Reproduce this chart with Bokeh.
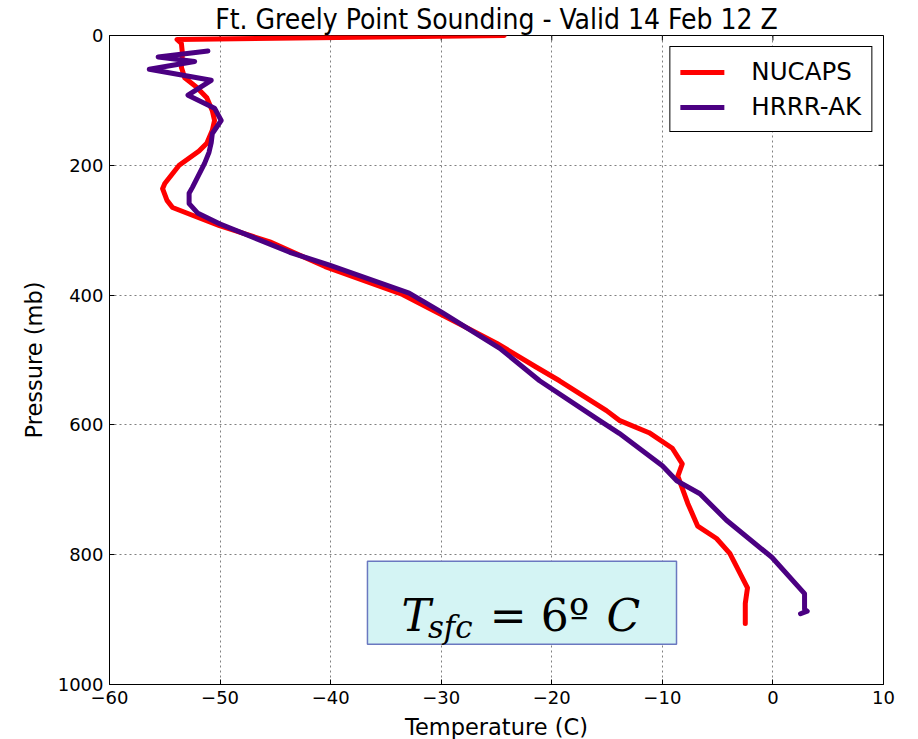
from bokeh.plotting import figure
from bokeh.models import (Range1d, FixedTicker, Legend, LegendItem,
                          BoxAnnotation, Label)
from bokeh.embed import file_html
from bokeh.resources import INLINE

# ---- data (temperature in C, pressure in mb) ----
nucaps_temp = [-24.3, -53.9, -53.5, -53.4, -53.5, -53.2, -52.1, -51.2, -50.7, -50.5,
               -50.7, -51.2, -51.9, -53.7, -55.0, -55.2, -54.8, -54.3, -52.5, -50.05,
               -45.5, -40.5, -33.5, -30.0, -25.0, -21.5, -19.3, -15.05, -13.9, -11.2,
               -9.1, -8.2, -8.6, -7.7, -6.8, -5.1, -3.9, -2.3, -2.5, -2.5]
nucaps_pres = [0, 6, 12, 28, 49, 65, 80, 96, 116, 131,
               146, 166, 178, 200, 228, 236, 254, 265, 277, 293,
               318, 356, 399, 430, 474, 510, 532, 578, 593, 612,
               636, 660, 679, 721, 756, 775, 798, 851, 875, 906]

hrrr_temp = [-51.1, -55.6, -52.3, -56.4, -50.8, -52.9, -50.5, -49.9, -50.7, -50.8,
             -51.0, -51.4, -52.5, -52.8, -52.8, -52.0, -50.05, -43.7, -40.1, -32.9,
             -29.9, -24.7, -21.1, -15.7, -13.9, -10.0, -8.7, -6.6, -4.2, -0.1,
             2.86, 2.86, 3.1, 2.5]
hrrr_pres = [24, 33, 40, 52, 69, 92, 112, 131, 151, 165,
             180, 197, 234, 243, 259, 274, 290, 334, 354, 397,
             427, 482, 532, 593, 613, 663, 686, 706, 747, 804,
             860, 884, 887, 891]

x_ticks = [-60, -50, -40, -30, -20, -10, 0, 10]
y_ticks = [0, 200, 400, 600, 800, 1000]
series_names = ["NUCAPS", "HRRR-AK"]
series_colors = ["#ff0000", "#4b0082"]

FONT = "DejaVu Sans"
X_MIN, X_MAX = -60, 10
Y_MIN, Y_MAX = 0, 1000

p = figure(frame_width=774, frame_height=649,
           x_range=Range1d(X_MIN, X_MAX), y_range=Range1d(Y_MAX, Y_MIN),
           output_backend="svg", toolbar_location=None,
           min_border_left=109, min_border_top=29, min_border_right=19, min_border_bottom=47,
           title="Ft. Greely Point Sounding - Valid 14 Feb 12 Z")

p.title.align = "center"
p.title.text_font = "DejaVu Sans Condensed"
p.title.text_font_size = "28px"
p.title.text_font_style = "normal"
p.title.text_color = "black"
p.title.standoff = 0

p.outline_line_color = "black"
p.outline_line_width = 1
p.outline_line_alpha = 1
p.background_fill_color = "white"
p.border_fill_color = "white"

def minus(v):
    return ("\u2212" + str(abs(v))) if v < 0 else str(v)

for ax, ticks in ((p.xaxis[0], x_ticks), (p.yaxis[0], y_ticks)):
    ax.ticker = FixedTicker(ticks=ticks)
    ax.major_label_overrides = {t: minus(t) for t in ticks}
    ax.major_tick_in = 5
    ax.major_tick_out = 0
    ax.minor_tick_line_color = None
    ax.axis_line_color = "black"
    ax.major_tick_line_color = "black"
    ax.major_label_text_font = FONT
    ax.major_label_text_font_size = "18px"
    ax.major_label_text_color = "black"
    ax.axis_label_text_font = FONT
    ax.axis_label_text_font_size = "22.5px"
    ax.axis_label_text_font_style = "normal"
    ax.axis_label_text_color = "black"
    ax.major_label_standoff = 6

p.xaxis[0].axis_label = "Temperature (C)"
p.yaxis[0].axis_label = "Pressure (mb)"
p.xaxis[0].axis_label_standoff = 7
p.yaxis[0].axis_label_standoff = 8

# inward tick marks on the top and right edges of the frame
tick_len_y = 5 * (Y_MAX - Y_MIN) / 649
tick_len_x = 5 * (X_MAX - X_MIN) / 774
p.segment(x0=x_ticks, y0=[Y_MIN] * len(x_ticks), x1=x_ticks,
          y1=[Y_MIN + tick_len_y] * len(x_ticks), line_color="black", line_width=1)
p.segment(x0=[X_MAX] * len(y_ticks), y0=y_ticks, x1=[X_MAX - tick_len_x] * len(y_ticks),
          y1=y_ticks, line_color="black", line_width=1)

p.xgrid.ticker = FixedTicker(ticks=x_ticks)
p.ygrid.ticker = FixedTicker(ticks=y_ticks)
for g in (p.xgrid[0], p.ygrid[0]):
    g.grid_line_color = "#808080"
    g.grid_line_dash = "2 3"
    g.grid_line_width = 1

r1 = p.line(nucaps_temp, nucaps_pres, line_color=series_colors[0], line_width=5,
            line_join="round", line_cap="round")
r2 = p.line(hrrr_temp, hrrr_pres, line_color=series_colors[1], line_width=5,
            line_join="round", line_cap="round")

legend = Legend(items=[LegendItem(label=series_names[0], renderers=[r1]),
                       LegendItem(label=series_names[1], renderers=[r2])],
                location="top_right")
legend.label_text_font = FONT
legend.label_text_font_size = "24.5px"
legend.label_text_color = "black"
legend.glyph_width = 44
legend.glyph_height = 28
legend.label_height = 28
legend.label_standoff = 27
legend.spacing = 6
legend.padding = 10
legend.margin = 11
legend.border_line_color = "black"
legend.border_line_width = 1
legend.border_line_alpha = 1
legend.background_fill_alpha = 1
p.add_layout(legend)

# annotation box
box = BoxAnnotation(left=-36.67, right=-8.72, top=810, bottom=938,
                    fill_color="#d4f4f4", fill_alpha=1,
                    line_color="#6a78c0", line_alpha=1, line_width=1.5)
p.add_layout(box)

SERIF = "DejaVu Serif"
p.add_layout(Label(x=-33.6, y=894, text="T", text_font=SERIF, text_font_style="italic",
                   text_font_size="44px", text_baseline="alphabetic", text_color="black"))
p.add_layout(Label(x=-31.2, y=912, text="sfc", text_font=SERIF, text_font_style="italic",
                   text_font_size="31px", text_baseline="alphabetic", text_color="black"))
p.add_layout(Label(x=-25.6, y=894, text="= 6\u00ba", text_font=SERIF,
                   text_font_size="44px", text_baseline="alphabetic", text_color="black"))
p.add_layout(Label(x=-15.05, y=894, text="C", text_font=SERIF, text_font_style="italic",
                   text_font_size="44px", text_baseline="alphabetic", text_color="black"))

open("out.html", "w").write(file_html(p, INLINE))
